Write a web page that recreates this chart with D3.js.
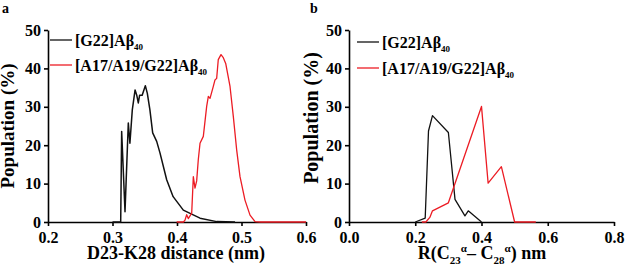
<!DOCTYPE html>
<html>
<head>
<meta charset="utf-8">
<script src="https://cdn.jsdelivr.net/npm/d3@7"></script>
<style>
  body { margin: 0; background: #fff; }
  svg { display: block; }
  svg text { font-family: "Liberation Serif", Tinos, "Times New Roman", Times, "DejaVu Serif", serif; font-weight: bold; }
</style>
</head>
<body>
<svg width="625" height="277"></svg>
<script>
(function (d3) {
  "use strict";

  // panel a: D23-K28 distance distribution
  const aG22 = [
    [0.300, 0], [0.3127, 0], [0.3142, 23.6], [0.3194, 2.7], [0.3245, 25.8], [0.327, 20.5],
    [0.3307, 29.2], [0.335, 34.4], [0.3375, 33.1], [0.340, 31], [0.342, 33], [0.346, 33],
    [0.3509, 35.5], [0.354, 33.5], [0.358, 29.2], [0.3623, 23.2], [0.3685, 21],
    [0.3736, 18], [0.384, 11], [0.394, 6.6], [0.4098, 3.1], [0.4357, 1.0],
    [0.4615, 0.1], [0.49, 0]
  ];
  const aA17 = [
    [0.3995, 0], [0.41, 0], [0.4124, 0.5], [0.415, 1.9], [0.4175, 0.9], [0.4228, 2.3],
    [0.4253, 11.8], [0.4279, 8.8], [0.4305, 10.7], [0.433, 16.2], [0.4357, 20.5],
    [0.4408, 22.3], [0.446, 30.1], [0.4486, 32.7], [0.4512, 32.2], [0.4563, 35.3],
    [0.4589, 37], [0.4615, 37.4], [0.464, 42.3], [0.4682, 43.6], [0.4718, 42.8],
    [0.4755, 41.3], [0.4822, 35.3], [0.4873, 27.5], [0.4925, 18.8], [0.4977, 11.8],
    [0.5054, 5.7], [0.5132, 1.8], [0.521, 0.1], [0.53, 0], [0.6, 0]
  ];

  // panel b: C23α–C28α distance distribution
  const bG22 = [
    [0.20, 0], [0.23, 1.0], [0.24, 23.7], [0.252, 27.7], [0.30, 23.3], [0.32, 5.9],
    [0.35, 1.6], [0.36, 2.9], [0.40, 0]
  ];
  const bA17 = [
    [0.22, 0], [0.232, 0], [0.244, 1.2], [0.252, 2.9], [0.30, 5.0], [0.40, 30.1],
    [0.42, 10.1], [0.46, 14.4], [0.50, 0], [0.564, 0]
  ];

  const yTicks = [0, 10, 20, 30, 40, 50];
  const aXTicks = [0.2, 0.3, 0.4, 0.5, 0.6];
  const bXTicks = [0.0, 0.2, 0.4, 0.6, 0.8];
  const seriesNames = ["[G22]Aβ", "[A17/A19/G22]Aβ"];
  const colors = ["#111111", "#ec1c24"];

  const svg = d3.select("svg");

  const panel = (cfg) => {
    const x = d3.scaleLinear().domain(cfg.xDomain).range(cfg.xRange);
    const y = d3.scaleLinear().domain([0, 50]).range([222, 30]);
    const g = svg.append("g");

    const xAxisG = g.append("g")
      .attr("transform", `translate(0,${y(0)})`)
      .call(d3.axisBottom(x).tickValues(cfg.xTicks).tickFormat(d3.format(".1f"))
        .tickSize(4).tickSizeOuter(0).tickPadding(6));
    const yAxisG = g.append("g")
      .attr("transform", `translate(${x(cfg.xDomain[0])},0)`)
      .call(d3.axisLeft(y).tickValues(yTicks).tickSize(4).tickSizeOuter(0).tickPadding(3));

    [xAxisG, yAxisG].forEach((ax) => {
      ax.attr("font-family", null).attr("font-size", null);
      ax.selectAll("path, line").attr("stroke", "#000").attr("stroke-width", 1.6);
      ax.selectAll("text").attr("font-size", 16).attr("fill", "#000");
    });

    const line = d3.line().x((d) => x(d[0])).y((d) => y(d[1]));
    [cfg.g22, cfg.a17].forEach((data, i) => {
      g.append("path").attr("d", line(data)).attr("fill", "none")
        .attr("stroke", colors[i]).attr("stroke-width", cfg.lw[i])
        .attr("stroke-linejoin", "round");
    });

    // legend
    seriesNames.forEach((name, i) => {
      const ly = cfg.legY[i];
      g.append("line").attr("x1", cfg.legX).attr("x2", cfg.legX + 22)
        .attr("y1", ly).attr("y2", ly).attr("stroke", colors[i]).attr("stroke-width", 1.3);
      const t = g.append("text").attr("x", cfg.legX + 25).attr("y", ly + 6)
        .attr("font-size", 16).attr("fill", "#000");
      t.append("tspan").text(name);
      t.append("tspan").attr("font-size", 9).attr("dy", 4).text("40");
    });

    // y title
    g.append("text")
      .attr("transform", `translate(${cfg.yTitleX},${cfg.yTitleY}) rotate(-90)`)
      .attr("text-anchor", "middle").attr("font-size", cfg.yTitleSize).attr("fill", "#000")
      .text("Population (%)");

    // panel letter
    g.append("text").attr("x", cfg.letterX).attr("y", 13).attr("font-size", 14)
      .attr("fill", "#000").text(cfg.letter);

    return { g, x, y };
  };

  const a = panel({
    xDomain: [0.2, 0.6], xRange: [48, 306], xTicks: aXTicks,
    g22: aG22, a17: aA17, lw: [1.5, 1.3],
    legX: 50, legY: [40, 65],
    yTitleX: 14, yTitleY: 126, yTitleSize: 19,
    letter: "a", letterX: 2
  });
  a.g.append("text").attr("x", 176).attr("y", 259).attr("text-anchor", "middle")
    .attr("font-size", 18).attr("fill", "#000").text("D23-K28 distance (nm)");

  const b = panel({
    xDomain: [0.0, 0.8], xRange: [349, 614], xTicks: bXTicks,
    g22: bG22, a17: bA17, lw: [1.3, 1.3],
    legX: 357, legY: [42, 68],
    yTitleX: 318, yTitleY: 118, yTitleSize: 20,
    letter: "b", letterX: 310
  });
  const bt = b.g.append("text").attr("x", 482).attr("y", 259).attr("text-anchor", "middle")
    .attr("font-size", 18).attr("fill", "#000");
  bt.append("tspan").text("R(C");
  bt.append("tspan").attr("font-size", 11).attr("dy", 5).text("23");
  bt.append("tspan").attr("font-size", 11).attr("dy", -12).text("α");
  bt.append("tspan").attr("dy", 7).text("– C");
  bt.append("tspan").attr("font-size", 11).attr("dy", 5).text("28");
  bt.append("tspan").attr("font-size", 11).attr("dy", -12).text("α");
  bt.append("tspan").attr("dy", 7).text(") nm");
})(d3);
</script>
</body>
</html>
